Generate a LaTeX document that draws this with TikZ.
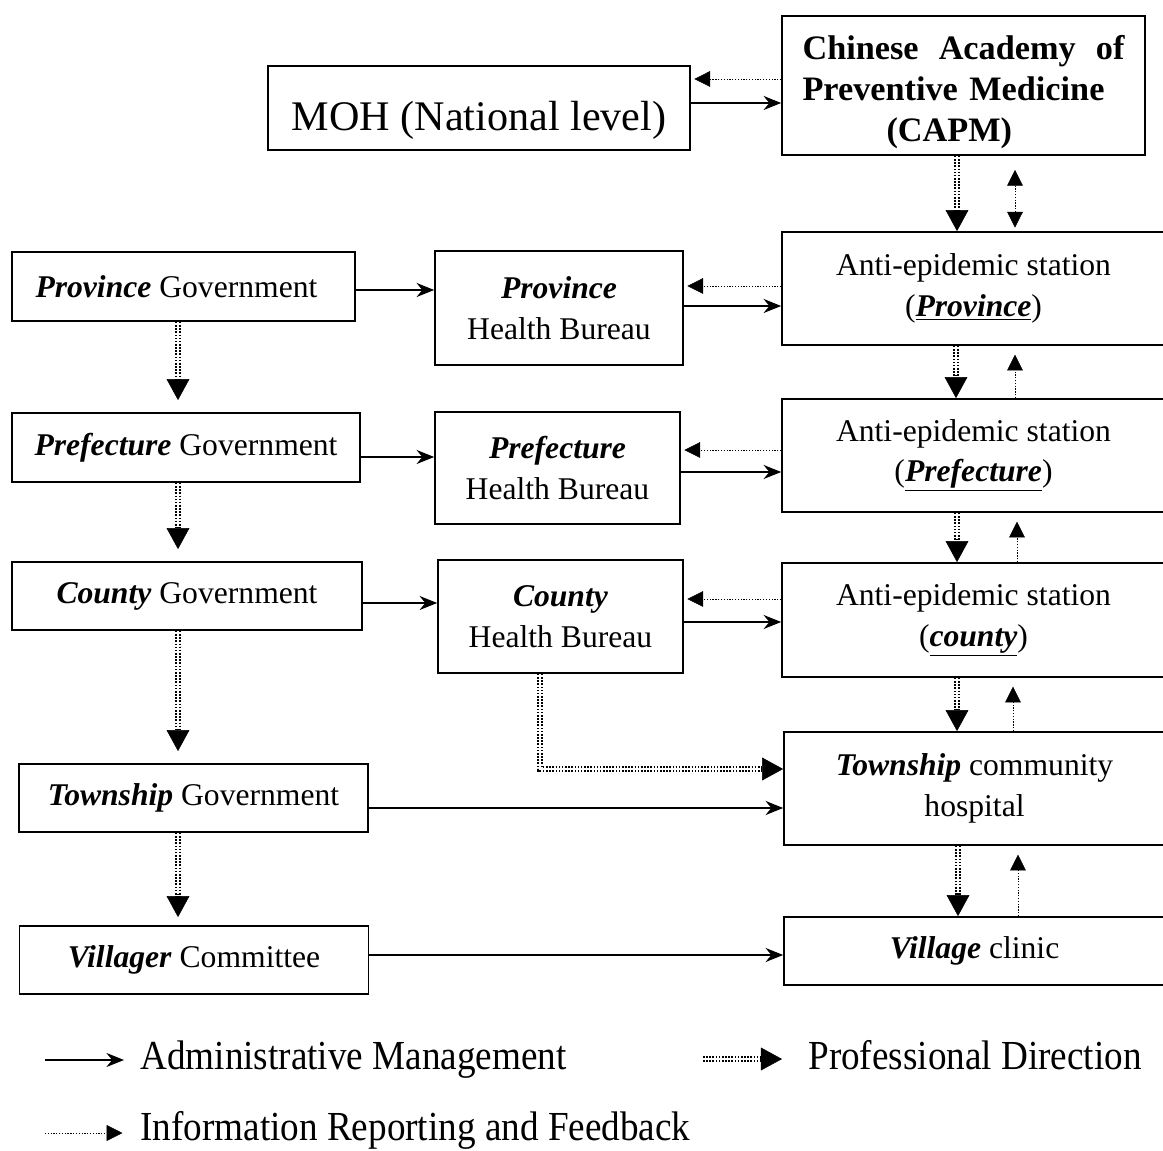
\documentclass[tikz,border=0pt]{standalone}
\usepackage{fontspec}
\setmainfont{Liberation Serif}
\newfontfamily\legendfont{Liberation Serif}[FakeStretch=0.9]
\usetikzlibrary{arrows.meta,calc,positioning}

\tikzset{
  box/.style={draw,line width=1pt,align=center,inner sep=2pt,font=\fontsize{18}{23}\selectfont},
  admin/.style={line width=1pt,-{Stealth[length=10pt,width=8pt]}},
  info/.style={line width=0.5pt,dash pattern=on 0.7pt off 0.9pt,shorten >=2pt,
    -{Triangle[length=9pt,width=9pt,line width=0.3pt]}},
  prof/.style={line width=3pt,dash pattern=on 0.9pt off 0.9pt,
    -{Triangle[length=12pt,width=13pt,line width=0.3pt]},
    postaction={draw=white,line width=0.7pt,solid,-,shorten >=13pt}},
  legtext/.style={anchor=base west,inner sep=0pt,font=\legendfont\fontsize{23.5}{28}\selectfont},
}

\begin{document}
\begin{tikzpicture}[x=0.02cm,y=-0.02cm]
\useasboundingbox (0,0) rectangle (1163,1151);
% national level
\node[box,minimum width=8.44cm,minimum height=1.68cm,font=\fontsize{24}{28}\selectfont] (moh) at (479,108) {\rule{0pt}{31pt}MOH (National level)};
\node[box,minimum width=7.26cm,minimum height=2.78cm,text width=6.44cm,align=left,font=\fontsize{19.5}{23.5}\selectfont\bfseries] (capm) at (963.5,85.5)
  {\rule{0pt}{21pt}\makebox[6.44cm][l]{Chinese\hfill Academy\hfill of}\\Preventive Medicine\\\hspace*{1.68cm}(CAPM)};
% government column
\node[box,minimum width=6.86cm,minimum height=1.38cm] (provgov) at (183.5,286.5) {\textbf{\textit{Province}} Government\hspace*{8pt}};
\node[box,minimum width=6.96cm,minimum height=1.38cm] (prefgov) at (186,447.5) {\textbf{\textit{Prefecture}} Government};
\node[box,minimum width=7.0cm,minimum height=1.36cm] (countygov) at (187,596) {\textbf{\textit{County}} Government};
\node[box,minimum width=6.98cm,minimum height=1.36cm] (towngov) at (193.5,798) {\textbf{\textit{Township}} Government};
\node[box,minimum width=6.98cm,minimum height=1.36cm] (villcom) at (194,960) {\textbf{\textit{Villager}} Committee};
% health bureaus
\node[box,minimum width=4.96cm,minimum height=2.28cm] (provhb) at (559,308) {\textbf{\textit{Province}}\\Health Bureau};
\node[box,minimum width=4.9cm,minimum height=2.24cm] (prefhb) at (557.5,468) {\textbf{\textit{Prefecture}}\\Health Bureau};
\node[box,minimum width=4.9cm,minimum height=2.26cm] (countyhb) at (560.5,616.5) {\textbf{\textit{County}}\\Health Bureau};
% anti-epidemic stations
\node[box,minimum width=7.66cm,minimum height=2.26cm] (aeprov) at (973.5,288.5) {Anti-epidemic station\\(\underline{\textbf{\textit{Province}}})};
\node[box,minimum width=7.66cm,minimum height=2.26cm] (aepref) at (973.5,455.5) {Anti-epidemic station\\(\underline{\textbf{\textit{Prefecture}}})};
\node[box,minimum width=7.66cm,minimum height=2.28cm] (aecounty) at (973.5,620) {Anti-epidemic station\\(\underline{\textbf{\textit{county}}})};
\node[box,minimum width=7.62cm,minimum height=2.26cm] (townhosp) at (974.5,788.5) {\textbf{\textit{Township}} community\\hospital};
\node[box,minimum width=7.62cm,minimum height=1.36cm] (villclinic) at (974.5,951) {\textbf{\textit{Village}} clinic};

% top
\draw[info] (capm.west |- 0,79) -- (moh.east |- 0,79);
\draw[admin] (moh.east |- 0,103) -- (capm.west |- 0,103);
\draw[prof] (capm.south -| 957,0) -- (aeprov.north -| 957,0);
\draw[info,{Triangle[length=9pt,width=9pt,line width=0.3pt]}-{Triangle[length=9pt,width=9pt,line width=0.3pt]},shorten <=8pt] (capm.south -| 1015,0) -- (aeprov.north -| 1015,0);
% province level
\draw[admin] (provgov.east |- 0,290) -- (provhb.west |- 0,290);
\draw[info] (aeprov.west |- 0,286) -- (provhb.east |- 0,286);
\draw[admin] (provhb.east |- 0,306) -- (aeprov.west |- 0,306);
\draw[prof] (aeprov.south -| 956,0) -- (aepref.north -| 956,0);
\draw[info,shorten >=5pt] (aepref.north -| 1015,0) -- (aeprov.south -| 1015,0);
\draw[prof] (provgov.south -| 178,0) -- ($(prefgov.north -| 178,0)+(0,-12)$);
% prefecture level
\draw[admin] (prefgov.east |- 0,457) -- (prefhb.west |- 0,457);
\draw[info] (aepref.west |- 0,450) -- (prefhb.east |- 0,450);
\draw[admin] (prefhb.east |- 0,472) -- (aepref.west |- 0,472);
\draw[prof] (aepref.south -| 957,0) -- (aecounty.north -| 957,0);
\draw[info,shorten >=5pt] (aecounty.north -| 1017,0) -- (aepref.south -| 1017,0);
\draw[prof] (prefgov.south -| 178,0) -- ($(countygov.north -| 178,0)+(0,-12)$);
% county level
\draw[admin] (countygov.east |- 0,603) -- (countyhb.west |- 0,603);
\draw[info] (aecounty.west |- 0,599) -- (countyhb.east |- 0,599);
\draw[admin] (countyhb.east |- 0,622) -- (aecounty.west |- 0,622);
\draw[prof] (aecounty.south -| 957,0) -- (townhosp.north -| 957,0);
\draw[info,shorten >=5pt] (townhosp.north -| 1013,0) -- (aecounty.south -| 1013,0);
\draw[prof] (countygov.south -| 178,0) -- ($(towngov.north -| 178,0)+(0,-12)$);
\draw[prof] (countyhb.south -| 540,0) |- (townhosp.west |- 0,769);
% township and village
\draw[admin] (towngov.east |- 0,808) -- (townhosp.west |- 0,808);
\draw[prof] (townhosp.south -| 958,0) -- (villclinic.north -| 958,0);
\draw[info,shorten >=5pt] (villclinic.north -| 1018,0) -- (townhosp.south -| 1018,0);
\draw[prof] (towngov.south -| 178,0) -- ($(villcom.north -| 178,0)+(0,-8)$);
\draw[admin] (villcom.east |- 0,955) -- (villclinic.west |- 0,955);

% legend
\coordinate (adminA) at (45,1060);
\coordinate (adminB) at (124,1060);
\node[legtext] (admintext) at (140,1069) {Administrative Management};
\draw[admin] (adminA) -- (adminB);
\coordinate (profA) at (703,1059);
\coordinate (profB) at (782,1059);
\node[legtext] (proftext) at (808,1069) {Professional Direction};
\draw[prof] (profA) -- (profB);
\coordinate (infoA) at (45,1133);
\coordinate (infoB) at (126,1133);
\node[legtext] (infotext) at (140,1140) {Information Reporting and Feedback};
\draw[info] (infoA) -- (infoB);
\end{tikzpicture}
\end{document}
